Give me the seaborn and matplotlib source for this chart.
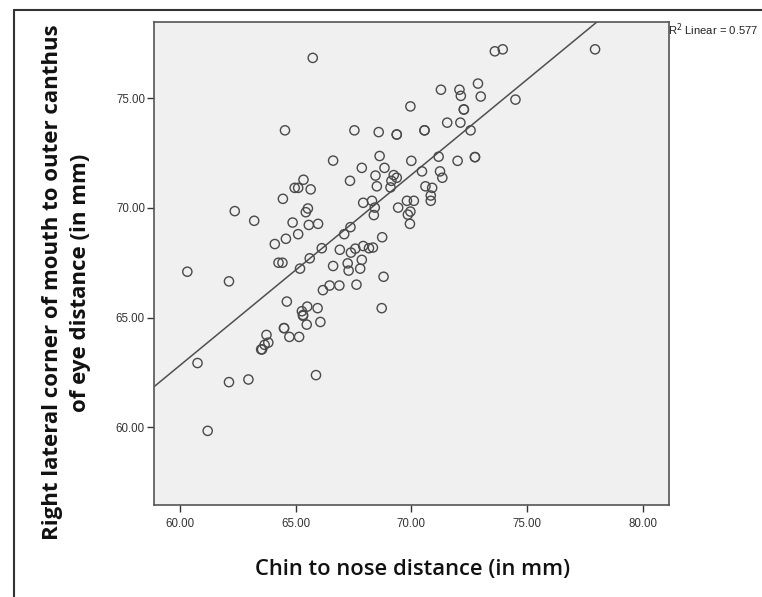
import matplotlib
matplotlib.use("Agg")
import matplotlib.pyplot as plt
import seaborn as sns
import pandas as pd
from matplotlib.lines import Line2D

# Chin to nose distance (mm)
chin_to_nose = [
    65.74, 73.61, 73.95, 77.94, 71.28, 72.08, 72.88, 72.14, 73.00, 74.50,
    69.96, 72.27, 72.27, 71.55, 72.12, 72.56, 64.54, 67.54, 68.59, 69.37,
    69.37, 70.57, 70.57, 68.63, 72.75, 72.75, 66.62, 71.18, 72.00, 70.00,
    67.86, 68.84, 71.24, 70.46, 68.45, 69.24, 69.37, 69.14, 67.35, 71.34,
    65.34, 68.51, 69.10, 70.61, 70.90, 70.84, 70.84, 64.96, 65.11, 65.65,
    64.45, 67.92, 68.30, 69.81, 70.11, 68.42, 68.38, 69.43, 69.96, 69.85,
    69.94, 62.37, 63.21, 65.53, 65.44, 64.87, 65.57, 65.97, 67.37, 67.10,
    65.11, 64.58, 64.10, 68.74, 66.13, 66.91, 67.39, 67.58, 67.92, 68.17,
    68.34, 65.61, 67.86, 60.32, 64.26, 64.43, 66.62, 67.25, 67.29, 67.79,
    65.19, 62.12, 66.18, 66.47, 66.89, 67.63, 68.80, 64.62, 65.50, 65.95,
    68.72, 65.27, 65.32, 65.32, 65.48, 66.07, 64.50, 64.50, 64.73, 65.15,
    63.74, 63.82, 63.66, 63.51, 63.55, 60.76, 62.12, 62.96, 65.88, 61.20,
]

# Right lateral corner of mouth to outer canthus of eye distance (mm)
mouth_to_canthus = [
    76.83, 77.13, 77.22, 77.22, 75.38, 75.38, 75.66, 75.10, 75.07, 74.93,
    74.62, 74.48, 74.48, 73.88, 73.88, 73.53, 73.53, 73.53, 73.45, 73.34,
    73.34, 73.53, 73.53, 72.36, 72.31, 72.31, 72.15, 72.33, 72.14, 72.14,
    71.82, 71.82, 71.66, 71.66, 71.47, 71.49, 71.37, 71.23, 71.23, 71.37,
    71.28, 70.98, 70.93, 70.98, 70.91, 70.56, 70.32, 70.91, 70.91, 70.84,
    70.41, 70.23, 70.32, 70.32, 70.32, 70.01, 69.67, 70.01, 69.83, 69.69,
    69.27, 69.85, 69.41, 69.97, 69.80, 69.33, 69.22, 69.27, 69.12, 68.80,
    68.80, 68.59, 68.35, 68.66, 68.16, 68.09, 67.96, 68.14, 68.26, 68.16,
    68.19, 67.70, 67.63, 67.09, 67.50, 67.50, 67.35, 67.47, 67.14, 67.23,
    67.23, 66.65, 66.25, 66.46, 66.46, 66.50, 66.86, 65.73, 65.50, 65.43,
    65.43, 65.29, 65.08, 65.12, 64.68, 64.80, 64.52, 64.52, 64.12, 64.12,
    64.21, 63.86, 63.76, 63.55, 63.55, 62.93, 62.06, 62.18, 62.38, 59.84,
]

x_ticks = [60, 65, 70, 75, 80]
y_ticks = [60, 65, 70, 75]
r2_label = "R$^2$ Linear = 0.577"

df = pd.DataFrame({"chin": chin_to_nose, "mouth": mouth_to_canthus})

sns.set_theme(style="ticks")
plt.rcParams["font.family"] = ["Liberation Sans", "DejaVu Sans"]

fig = plt.figure(figsize=(7.62, 5.97), dpi=100)
fig.patch.set_facecolor("white")
ax = fig.add_axes([0.2021, 0.154, 0.676, 0.8097])
ax.set_facecolor("#f0f0f0")

ax.set_xlim(58.88, 81.14)
ax.set_ylim(56.46, 78.48)

sns.scatterplot(data=df, x="chin", y="mouth", ax=ax, marker="o", s=44,
                facecolor="none", edgecolor="#4a4a4a", linewidth=1.0, zorder=3)
sns.regplot(data=df, x="chin", y="mouth", ax=ax, scatter=False, ci=None,
            truncate=False, line_kws=dict(color="#4f4f4f", lw=1.1))

ax.set_xlim(58.88, 81.14)
ax.set_ylim(56.46, 78.48)
ax.set_xticks(x_ticks)
ax.set_yticks(y_ticks)
ax.set_xticklabels([f"{t:.2f}" for t in x_ticks])
ax.set_yticklabels([f"{t:.2f}" for t in y_ticks])
ax.tick_params(axis="both", labelsize=8.3, colors="#333333", length=5,
               width=1.0, direction="out")
ax.tick_params(axis="y", pad=1.5)
ax.tick_params(axis="x", pad=4)
for sp in ax.spines.values():
    sp.set_visible(True)
    sp.set_color("#555555")
    sp.set_linewidth(1.2)

ax.set_xlabel("")
ax.set_ylabel("")

fig.text(0.541, 0.046, "Chin to nose distance (in mm)", ha="center", va="center",
         fontsize=15.8, family=["Open Sans", "DejaVu Sans"], fontweight="semibold",
         color="#111111")
fig.text(0.0875, 0.527,
         "Right lateral corner of mouth to outer canthus\nof eye distance (in mm)",
         ha="center", va="center", rotation=90, fontsize=16,
         family=["Open Sans", "DejaVu Sans"], fontweight="bold",
         color="#111111", linespacing=1.45)

fig.text(0.876, 0.950, r2_label, ha="left", va="center", fontsize=8.1,
         color="#222222")

# outer frame of the figure (top and left edges)
fig.add_artist(Line2D([0.018, 1.0], [0.984, 0.984], transform=fig.transFigure,
                      color="#333333", lw=1.5))
fig.add_artist(Line2D([0.018, 0.018], [0.0, 0.984], transform=fig.transFigure,
                      color="#333333", lw=1.5))

fig.savefig("out.png", dpi=100)
